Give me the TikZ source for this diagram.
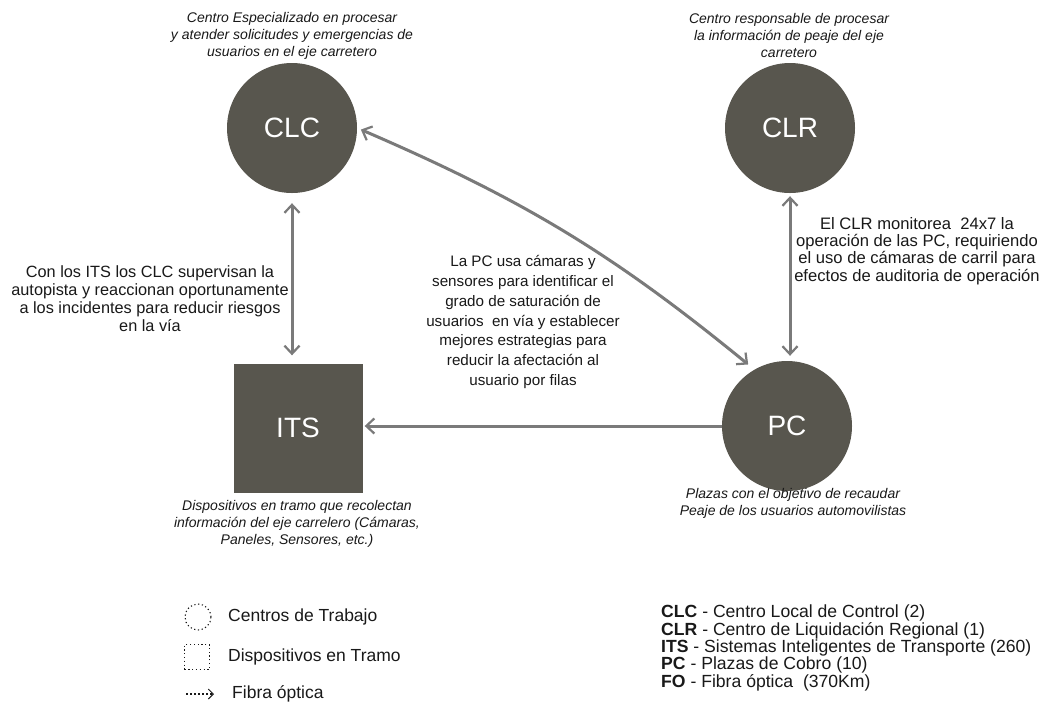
\documentclass[tikz,border=0pt]{standalone}
\usepackage{fontspec}
\setmainfont{Liberation Sans}
\usetikzlibrary{arrows.meta}
\definecolor{nodefill}{RGB}{88,86,78}
\definecolor{linegray}{RGB}{122,122,122}
\definecolor{txt}{RGB}{25,25,25}
\begin{document}
\begin{tikzpicture}[x=1pt,y=-1pt,
  centro/.style={circle, fill=nodefill, minimum size=130pt, inner sep=0pt, text=white,
    font=\fontsize{28}{30}\selectfont},
  disp/.style={rectangle, fill=nodefill, minimum size=129pt, inner sep=0pt, text=white,
    font=\fontsize{28}{30}\selectfont},
  barb/.tip={Straight Barb[length=8pt,width=15pt,line width=2.2pt]},
  fibra/.style={draw=linegray, line width=3pt},
  caption/.style={align=center, text=txt, inner sep=0pt, font=\fontsize{14}{17}\selectfont\itshape},
  note/.style={align=center, text=txt, inner sep=0pt},
  legtext/.style={anchor=west, text=txt, inner sep=0pt, font=\fontsize{17.5}{20}\selectfont},
  legsym/.style={draw=txt, line width=1.1pt, dash pattern=on 1.2pt off 2.6pt, inner sep=0pt}
]
\useasboundingbox (0,0) rectangle (1041,705);
\fill[white] (0,0) rectangle (1041,705);

% main nodes
\node[centro] (CLC) at (292,128) {CLC};
\node[centro] (CLR) at (790,128) {CLR};
\node[disp]   (ITS) at (298,428) {ITS};
\node[centro] (PC)  at (787,426) {PC};

% captions
\node[caption] (capCLC) at (292,36) {Centro Especializado en procesar\\y atender solicitudes y emergencias de\\usuarios en el eje carretero};
\node[caption] (capCLR) at (789,35) {Centro responsable de procesar\\la información de peaje del eje\\carretero};
\node[caption] (capITS) at (297,524) {Dispositivos en tramo que recolectan\\información del eje carrelero (Cámaras,\\Paneles, Sensores, etc.)};
\node[caption] (capPC)  at (793,503) {Plazas con el objetivo de recaudar\\Peaje de los usuarios automovilistas};

% notes
\node[note, font=\fontsize{16.3}{18}\selectfont] (nITS) at (150,299)
  {Con los ITS los CLC supervisan la\\autopista y reaccionan oportunamente\\a los incidentes para reducir riesgos\\en la vía};
\node[note, font=\fontsize{15.2}{19.8}\selectfont] (nPC) at (523,322)
  {La PC usa cámaras y\\sensores para identificar el\\grado de saturación de\\usuarios \ en vía y establecer\\mejores estrategias para\\reducir la afectación al\\usuario por filas};
\node[note, font=\fontsize{16.6}{17.4}\selectfont] (nCLR) at (917,251)
  {El CLR monitorea \ 24x7 la\\operación de las PC, requiriendo\\el uso de cámaras de carril para\\efectos de auditoria de operación};

% connectors
\draw[fibra, barb-barb, shorten <=10pt, shorten >=8pt] (CLC.south) -- (CLC.south |- ITS.north);
\draw[fibra, barb-barb, shorten <=3pt, shorten >=5pt] (CLR.south) -- (CLR.south |- PC.north);
\draw[fibra, -barb, shorten >=2pt] (PC.west) -- (PC.west -| ITS.east);
\draw[fibra, barb-barb, shorten <=4pt, shorten >=8pt] (CLC.east) to[bend left=8] (PC.120);

% legend (left)
\node[legsym, circle, minimum size=26pt] (symC) at (198,617) {};
\node[legsym, rectangle, minimum size=25pt] (symD) at (197,657) {};
\coordinate (fA) at (186,694);
\coordinate (fB) at (214,694);
\draw[draw=txt, line width=1.1pt, dash pattern=on 1.5pt off 2.5pt, -{Straight Barb[length=5pt,width=10pt,line width=1pt]}] (fA) -- (fB);
\node[legtext] (lC) at (228,617) {Centros de Trabajo};
\node[legtext] (lD) at (228,657) {Dispositivos en Tramo};
\node[legtext] (lF) at (232,694) {Fibra óptica};

% legend (right)
\node[anchor=west, align=left, text=txt, inner sep=0pt, font=\fontsize{17.6}{17.3}\selectfont] (abbr) at (661,648)
  {\textbf{CLC} - Centro Local de Control (2)\\
   \textbf{CLR} - Centro de Liquidación Regional (1)\\
   \textbf{ITS} - Sistemas Inteligentes de Transporte (260)\\
   \textbf{PC} - Plazas de Cobro (10)\\
   \textbf{FO} - Fibra óptica \ (370Km)};
\end{tikzpicture}
\end{document}
